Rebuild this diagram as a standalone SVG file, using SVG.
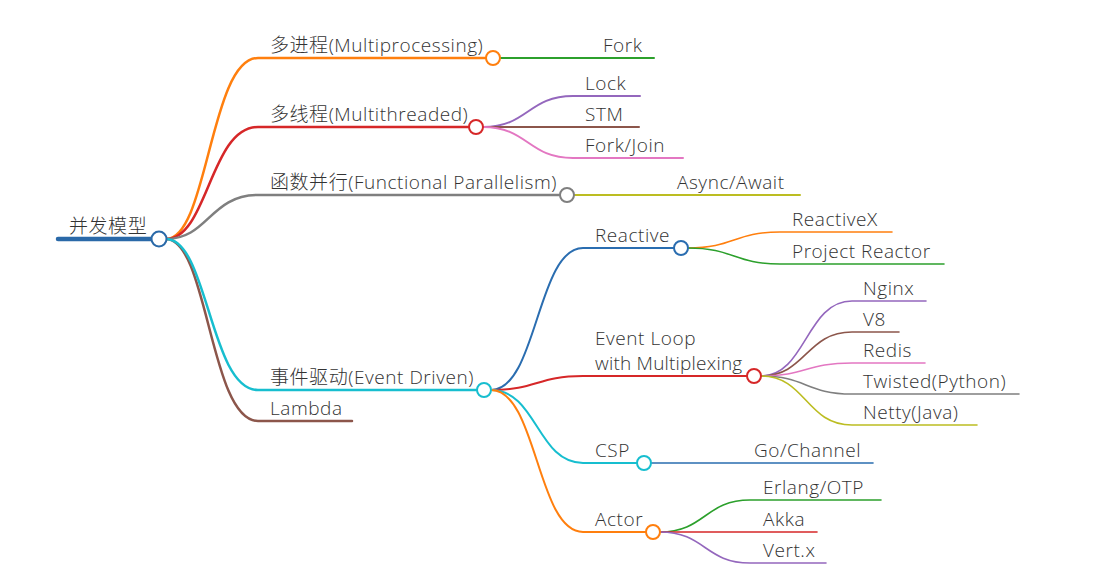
<svg xmlns="http://www.w3.org/2000/svg" width="1115" height="586" viewBox="0 0 1115 586">
<style>
text{font-family:"Open Sans","Noto Sans CJK SC",sans-serif;font-size:19px;font-weight:300;fill:#333;letter-spacing:0.55px}
.c path{fill:none;stroke-linecap:round}
.l1{stroke-width:2.5}
.l2{stroke-width:2}
.l3{stroke-width:1.6}
circle{fill:#fff;stroke-width:2}
</style>
<rect width="1115" height="586" fill="#fff"/>
<g class="c" id="connectors">
<path d="M58,239 L152,239" stroke="#2a69a8" stroke-width="4.5" stroke-linecap="butt"/>
<path class="l1" stroke="#ff7f0e" d="M166,239 C208,239 210,58 258,58 L486,58"/>
<path class="l1" stroke="#d62728" d="M166,239 C208,239 210,127 258,127 L469,127"/>
<path class="l1" stroke="#7f7f7f" d="M166,239 C208,239 210,195 258,195 L560,195"/>
<path class="l1" stroke="#8c564b" d="M166,239 C208,239 210,421 258,421 L352,421"/>
<path class="l1" stroke="#17becf" d="M166,239 C208,239 210,390 258,390 L477,390"/>
<path class="l2" stroke="#2ca02c" d="M500,58 L654,58"/>
<path class="l2" stroke="#9467bd" d="M483,127 C528,127 528,96 573,96 L640,96"/>
<path class="l2" stroke="#8c564b" d="M483,127 L639,127"/>
<path class="l2" stroke="#e377c2" d="M483,127 C528,127 528,158 573,158 L683,158"/>
<path class="l2" stroke="#bcbd22" d="M574,195 L800,195"/>
<path class="l2" stroke="#2a6db0" d="M491,390 C537,390 537,248 583,248 L674,248"/>
<path class="l2" stroke="#d62728" d="M491,390 C537,390 537,376 583,376 L747,376"/>
<path class="l2" stroke="#17becf" d="M491,390 C537,390 537,463 583,463 L637,463"/>
<path class="l2" stroke="#ff7f0e" d="M491,390 C537,390 537,532 583,532 L646,532"/>
<path class="l3" stroke="#ff7f0e" d="M688,248 C734,248 734,232 780,232 L892,232"/>
<path class="l3" stroke="#2ca02c" d="M688,248 C734,248 734,264 780,264 L944,264"/>
<path class="l3" stroke="#9467bd" d="M761,376 C806,376 806,301 852,301 L926,301"/>
<path class="l3" stroke="#8c564b" d="M761,376 C806,376 806,332 852,332 L899,332"/>
<path class="l3" stroke="#e377c2" d="M761,376 C806,376 806,363 852,363 L925,363"/>
<path class="l3" stroke="#7f7f7f" d="M761,376 C806,376 806,394 852,394 L1019,394"/>
<path class="l3" stroke="#bcbd22" d="M761,376 C806,376 806,425 852,425 L977,425"/>
<path class="l3" stroke="#2a6db0" d="M651,463 L873,463"/>
<path class="l3" stroke="#2ca02c" d="M660,532 C705,532 705,500 750,500 L881,500"/>
<path class="l3" stroke="#d62728" d="M660,532 L817,532"/>
<path class="l3" stroke="#9467bd" d="M660,532 C705,532 705,563 750,563 L826,563"/>
</g>
<g id="root"><text x="69" y="233">并发模型</text><circle cx="159" cy="239" r="7.5" stroke="#2a69a8"/></g>
<g id="n-multiprocessing"><text x="270" y="52">多进程(Multiprocessing)</text><circle cx="493" cy="58" r="7" stroke="#ff7f0e"/></g>
<g id="n-fork"><text x="603" y="52">Fork</text></g>
<g id="n-multithreaded"><text x="270" y="121">多线程(Multithreaded)</text><circle cx="476" cy="127" r="7" stroke="#d62728"/></g>
<g id="n-lock"><text x="585" y="90">Lock</text></g>
<g id="n-stm"><text x="585" y="121">STM</text></g>
<g id="n-forkjoin"><text x="585" y="152">Fork/Join</text></g>
<g id="n-functional"><text x="270" y="189">函数并行(Functional Parallelism)</text><circle cx="567" cy="195" r="7" stroke="#7f7f7f"/></g>
<g id="n-async"><text x="677" y="189">Async/Await</text></g>
<g id="n-event"><text x="270" y="384">事件驱动(Event Driven)</text><circle cx="484" cy="390" r="7" stroke="#17becf"/></g>
<g id="n-lambda"><text x="270" y="415">Lambda</text></g>
<g id="n-reactive"><text x="595" y="242">Reactive</text><circle cx="681" cy="248" r="7" stroke="#2a6db0"/></g>
<g id="n-reactivex"><text x="792" y="226">ReactiveX</text></g>
<g id="n-projectreactor"><text x="792" y="258">Project Reactor</text></g>
<g id="n-eventloop"><text x="595" y="345">Event Loop</text><text x="595" y="370" style="letter-spacing:0.2px">with Multiplexing</text><circle cx="754" cy="376" r="7" stroke="#d62728"/></g>
<g id="n-nginx"><text x="863" y="295">Nginx</text></g>
<g id="n-v8"><text x="863" y="326">V8</text></g>
<g id="n-redis"><text x="863" y="357">Redis</text></g>
<g id="n-twisted"><text x="863" y="388">Twisted(Python)</text></g>
<g id="n-netty"><text x="863" y="419">Netty(Java)</text></g>
<g id="n-csp"><text x="595" y="457">CSP</text><circle cx="644" cy="463" r="7" stroke="#17becf"/></g>
<g id="n-gochannel"><text x="754" y="457">Go/Channel</text></g>
<g id="n-actor"><text x="595" y="526">Actor</text><circle cx="653" cy="532" r="7" stroke="#ff7f0e"/></g>
<g id="n-erlang"><text x="763" y="494">Erlang/OTP</text></g>
<g id="n-akka"><text x="763" y="526">Akka</text></g>
<g id="n-vertx"><text x="763" y="557">Vert.x</text></g>
</svg>
